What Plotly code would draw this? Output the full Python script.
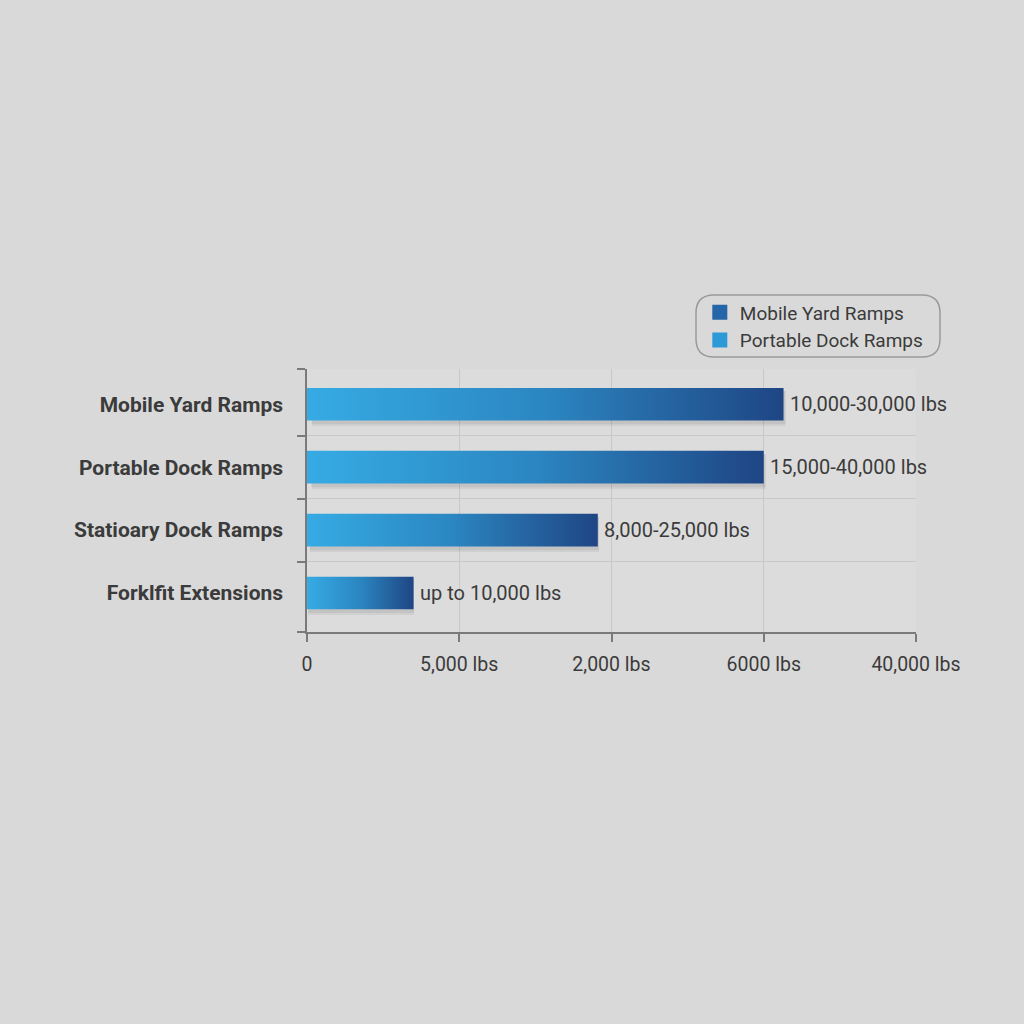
import plotly.graph_objects as go

categories = ["Mobile Yard Ramps", "Portable Dock Ramps", "Statioary Dock Ramps", "Forklfit Extensions"]
capacity = [31300, 30000, 19100, 7000]
range_labels = ["10,000-30,000 lbs", "15,000-40,000 lbs", "8,000-25,000 lbs", "up to 10,000 lbs"]
tick_values = [0, 10000, 20000, 30000, 40000]
tick_labels = ["0", "5,000 lbs", "2,000 lbs", "6000 lbs", "40,000 lbs"]
legend_names = ["Mobile Yard Ramps", "Portable Dock Ramps"]

bar_scale = [[0, "#36abe4"], [0.5, "#2b86c1"], [1, "#1f4584"]]
half = 0.26
ypos = list(range(len(categories) - 1, -1, -1))

fig = go.Figure()

for cat, val, y, lab in zip(categories, capacity, ypos, range_labels):
    # soft shadow under the bar
    for k, a in [(0.09, 0.05), (0.06, 0.06)]:
        fig.add_trace(go.Scatter(
            x=[val * 0.01, val * 1.004, val * 1.004, val * 0.01, val * 0.01],
            y=[y - half - k, y - half - k, y + half - 0.05, y + half - 0.05, y - half - k],
            fill="toself", fillcolor=f"rgba(0,0,0,{a})", mode="lines",
            line=dict(width=0), showlegend=False, hoverinfo="skip"))
    fig.add_trace(go.Scatter(
        x=[0, val, val, 0, 0],
        y=[y - half, y - half, y + half, y + half, y - half],
        fill="toself", mode="lines", line=dict(width=0),
        fillgradient=dict(type="horizontal", colorscale=bar_scale),
        showlegend=False, name=cat))
    fig.add_annotation(x=val, y=y, text=lab, showarrow=False, xanchor="left",
                       xshift=4, font=dict(family="Roboto", size=20, color="#3b3b3b"))

# legend entries
legend_colors = ["#2566a8", "#2d9ad8"]
for name, col in zip(legend_names, legend_colors):
    fig.add_trace(go.Scatter(
        x=[None], y=[None], mode="markers", name=name,
        marker=dict(symbol="square", size=15, color=col)))

# rounded legend frame
x0, x1, y0, y1, r = 389, 633, 275, 337, 18
path = (f"M {x0 + r},{y0} L {x1 - r},{y0} Q {x1},{y0} {x1},{y0 + r} "
        f"L {x1},{y1 - r} Q {x1},{y1} {x1 - r},{y1} L {x0 + r},{y1} "
        f"Q {x0},{y1} {x0},{y1 - r} L {x0},{y0 + r} Q {x0},{y0} {x0 + r},{y0} Z")
fig.add_shape(type="path", path=path, xref="paper", yref="paper",
              xsizemode="pixel", ysizemode="pixel", xanchor=0, yanchor=0,
              line=dict(color="#9a9a9a", width=1.5), fillcolor="rgba(0,0,0,0)")

fig.update_layout(
    width=1024, height=1024, autosize=False,
    paper_bgcolor="#d9d9d9", plot_bgcolor="#dcdcdc",
    margin=dict(l=307, r=108, t=369, b=392),
    font=dict(family="Roboto", color="#3b3b3b"),
    legend=dict(x=0.645, y=1.287, xanchor="left", yanchor="top",
                bgcolor="rgba(0,0,0,0)", font=dict(size=19, color="#3b3b3b"),
                tracegroupgap=0, itemwidth=30),
    showlegend=True,
)

fig.update_xaxes(
    range=[0, 40000], tickvals=tick_values, ticktext=tick_labels,
    showgrid=True, gridcolor="#c8c8c8", gridwidth=1,
    showline=True, linecolor="#7a7a7a", linewidth=1.5,
    ticks="outside", ticklen=8, tickcolor="#7a7a7a", tickwidth=1.5,
    tickfont=dict(size=19.5, color="#3b3b3b"), zeroline=False,
    ticklabelstandoff=6,
)

fig.update_yaxes(
    range=[-0.62, 3.56], tickvals=ypos, ticktext=categories,
    ticks="", showgrid=False, zeroline=False,
    showline=True, linecolor="#7a7a7a", linewidth=1.5,
    tickfont=dict(size=21, color="#3b3b3b", weight="bold"),
    ticklabelstandoff=18,
    minor=dict(tickvals=[-0.62, 0.5, 1.5, 2.5, 3.56], ticks="outside", ticklen=8,
               tickcolor="#7a7a7a", tickwidth=1.5, showgrid=True,
               gridcolor="#c8c8c8", gridwidth=1),
)

fig.write_html("out.html", config={"displayModeBar": False},
               post_script="document.body.style.margin='0';document.body.style.background='#d9d9d9';")
